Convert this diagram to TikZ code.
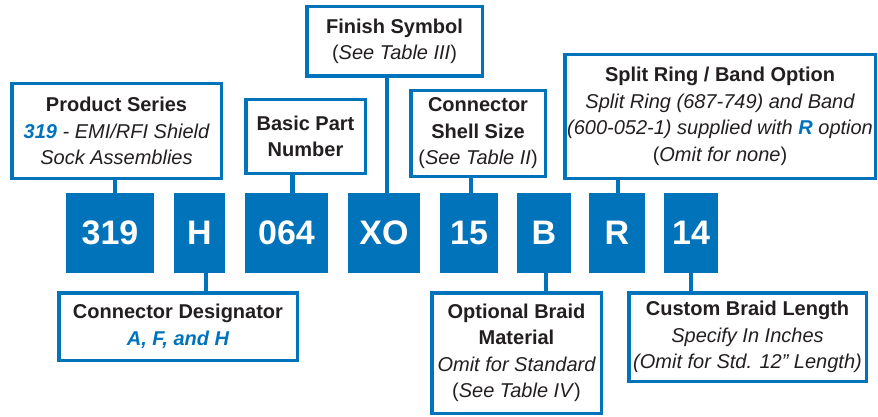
\documentclass[tikz,border=0pt]{standalone}
\usepackage{fontspec}
\setmainfont{Liberation Sans}
\definecolor{pblue}{RGB}{0,115,187}
\definecolor{ptext}{RGB}{35,31,32}
\newcommand{\hb}[1]{\textcolor{pblue}{\bfseries\itshape #1}}
\begin{document}
\begin{tikzpicture}[x=1pt,y=-1pt,
  sq/.style={fill=pblue, text=white, font=\fontsize{34}{40}\selectfont\bfseries, inner sep=0pt, minimum height=80pt},
  lab/.style={draw=pblue, line width=3.5pt, fill=white, text=ptext, align=center, inner sep=0pt, font=\fontsize{20}{26.5}\selectfont},
  conn/.style={draw=pblue, line width=4.5pt}]
\useasboundingbox (0,0) rectangle (878,417);

% code squares
\node[sq, minimum width=88pt] (s319) at (110,233) {319};
\node[sq, minimum width=51pt] (sH)   at (199.5,233) {H};
\node[sq, minimum width=83pt] (s064) at (286.5,233) {064};
\node[sq, minimum width=72pt] (sXO)  at (384,233) {XO};
\node[sq, minimum width=58pt] (s15)  at (469,233) {15};
\node[sq, minimum width=54pt] (sB)   at (544,233) {B};
\node[sq, minimum width=56pt] (sR)   at (617,233) {R};
\node[sq, minimum width=54pt] (s14)  at (691,233) {14};

% label boxes
\node[lab, minimum width=209.5pt, minimum height=94.5pt] (ps) at (116.5,131)
  {\bfseries Product Series\\ \hb{319} \itshape - EMI/RFI Shield\\ \itshape Sock Assemblies};
\node[lab, minimum width=119.5pt, minimum height=73.5pt] (bpn) at (305.5,136.5)
  {\bfseries Basic Part\\ \bfseries Number};
\node[lab, minimum width=175.5pt, minimum height=69.5pt] (fin) at (394.5,41.5)
  {\bfseries Finish Symbol\\ (\textit{See Table III})};
\node[lab, minimum width=134.5pt, minimum height=85.5pt] (css) at (478,133.5)
  {\bfseries Connector\\ \bfseries Shell Size\\ (\textit{See Table II})};
\node[lab, minimum width=310.5pt, minimum height=123.5pt] (spl) at (720,116.5)
  {\bfseries Split Ring / Band Option\\ \itshape Split Ring (687-749) and Band\\ \itshape (600-052-1) supplied with \hb{R} option\\ (\textit{Omit for none})};
\node[lab, minimum width=238.5pt, minimum height=67.5pt] (cd) at (178,326.5)
  {\bfseries Connector Designator\\ \hb{A, F, and H}};
\node[lab, minimum width=169.5pt, minimum height=120.5pt] (obm) at (516.5,353)
  {\bfseries Optional Braid\\ \bfseries Material\\ \itshape Omit for Standard\\ (\textit{See Table IV})};
\node[lab, minimum width=237.5pt, minimum height=88.5pt] (cbl) at (747.5,337)
  {\bfseries Custom Braid Length\\ \itshape Specify In Inches\\ \itshape (Omit for Std. 12\symbol{34} Length)};

% connectors
\draw[conn] ([xshift=5pt]s319.north |- ps.south) -- ([xshift=5pt]s319.north);
\draw[conn] ([xshift=6pt]s064.north |- bpn.south) -- ([xshift=6pt]s064.north);
\draw[conn] ([xshift=3pt]sXO.north |- fin.south) -- ([xshift=3pt]sXO.north);
\draw[conn] ([xshift=2pt]s15.north |- css.south) -- ([xshift=2pt]s15.north);
\draw[conn] ([xshift=1pt]sR.north |- spl.south) -- ([xshift=1pt]sR.north);
\draw[conn] ([xshift=6.5pt]sH.south) -- ([xshift=6.5pt]sH.south |- cd.north);
\draw[conn] ([xshift=2pt]sB.south) -- ([xshift=2pt]sB.south |- obm.north);
\draw[conn] (s14.south) -- (s14.south |- cbl.north);
\end{tikzpicture}
\end{document}
